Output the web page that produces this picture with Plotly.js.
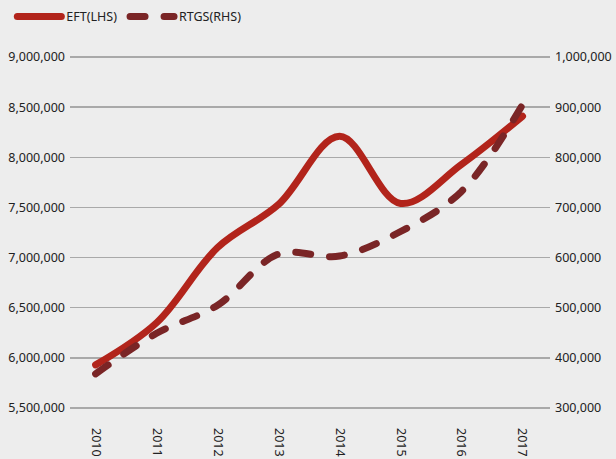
<!DOCTYPE html>
<html>
<head>
<meta charset="utf-8">
<script src="https://cdn.plot.ly/plotly-3.0.1.min.js"></script>
<style>
html,body{margin:0;padding:0;background:#ededed;}
#chart{width:616px;height:459px;}
path.js-line{stroke-linecap:round !important;}
</style>
</head>
<body>
<div id="chart"></div>
<script>
const years = ['2010','2011','2012','2013','2014','2015','2016','2017'];
const eftValues = [5930000, 6350000, 7100000, 7530000, 8210000, 7540000, 7930000, 8410000];
const rtgsValues = [368000, 449000, 505000, 607000, 603000, 652000, 732000, 905000];
const leftTicks = [5500000, 6000000, 6500000, 7000000, 7500000, 8000000, 8500000, 9000000];
const rightTicks = [300000, 400000, 500000, 600000, 700000, 800000, 900000, 1000000];

const fontFam = 'Noto Sans, DejaVu Sans, sans-serif';

const traces = [
  {
    x: years, y: eftValues, name: 'EFT(LHS)', type: 'scatter', mode: 'lines',
    line: {color: '#b2241b', width: 7, shape: 'spline', smoothing: 1},
    yaxis: 'y', legend: 'legend'
  },
  {
    x: years, y: rtgsValues, name: 'RTGS(RHS)', type: 'scatter', mode: 'lines',
    line: {color: '#7a2526', width: 7, shape: 'spline', smoothing: 1, dash: '15px,19px'},
    yaxis: 'y2', legend: 'legend2'
  }
];

const legendBase = {
  orientation: 'h', xref: 'container', y: 0.996, yref: 'container',
  xanchor: 'left', yanchor: 'top', bgcolor: 'rgba(0,0,0,0)',
  font: {family: fontFam, size: 12.5, color: '#222222'},
  itemwidth: 44
};

const layout = {
  width: 616, height: 459,
  paper_bgcolor: '#ededed', plot_bgcolor: '#ededed',
  margin: {l: 70, r: 66, t: 53, b: 47},
  font: {family: fontFam, size: 12.5, color: '#222222'},
  showlegend: true,
  legend: Object.assign({}, legendBase, {x: 0.02}),
  legend2: Object.assign({}, legendBase, {x: 0.203}),
  xaxis: {
    type: 'category', range: [-0.42, 7.45],
    showgrid: false, zeroline: false, showline: false, ticks: '',
    tickangle: 90, ticklabelstandoff: 15,
    tickfont: {family: fontFam, size: 12.5, color: '#222222'}
  },
  yaxis: {
    range: [5460000, 9040000], tickvals: leftTicks, tickformat: ',d',
    showgrid: true, gridcolor: '#a9a9a9', gridwidth: 1.5,
    zeroline: false, showline: false, ticks: '', ticklabelstandoff: 4,
    tickfont: {family: fontFam, size: 12.5, color: '#222222'}
  },
  yaxis2: {
    overlaying: 'y', side: 'right',
    range: [292000, 1008000], tickvals: rightTicks, tickformat: ',d',
    showgrid: false, zeroline: false, showline: false, ticks: '', ticklabelstandoff: 4,
    tickfont: {family: fontFam, size: 12.5, color: '#222222'}
  }
};

Plotly.newPlot('chart', traces, layout, {displayModeBar: false, staticPlot: true});
</script>
</body>
</html>
